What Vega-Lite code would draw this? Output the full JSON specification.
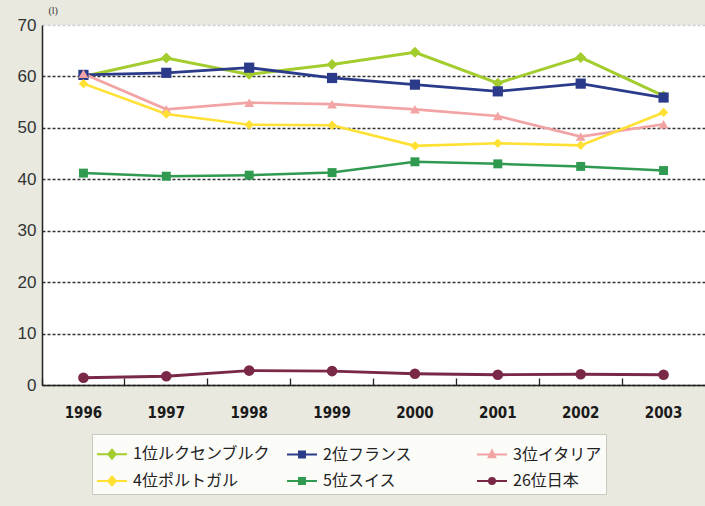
{
  "$schema": "https://vega.github.io/schema/vega-lite/v6.json",
  "width": 663,
  "height": 360,
  "autosize": {"type": "none"},
  "padding": {"left": 42, "top": 25, "right": 0, "bottom": 121},
  "background": "#e9e9e0",
  "config": {"view": {"fill": "#ffffff", "stroke": null}, "legend": {"gridAlign": "all"}},
  "data": {"values": [
    {"year": "1996", "country": "1位ルクセンブルク", "value": 60.0},
    {"year": "1997", "country": "1位ルクセンブルク", "value": 63.6},
    {"year": "1998", "country": "1位ルクセンブルク", "value": 60.4},
    {"year": "1999", "country": "1位ルクセンブルク", "value": 62.3},
    {"year": "2000", "country": "1位ルクセンブルク", "value": 64.7},
    {"year": "2001", "country": "1位ルクセンブルク", "value": 58.7},
    {"year": "2002", "country": "1位ルクセンブルク", "value": 63.7},
    {"year": "2003", "country": "1位ルクセンブルク", "value": 56.2},
    {"year": "1996", "country": "2位フランス", "value": 60.3},
    {"year": "1997", "country": "2位フランス", "value": 60.7},
    {"year": "1998", "country": "2位フランス", "value": 61.7},
    {"year": "1999", "country": "2位フランス", "value": 59.7},
    {"year": "2000", "country": "2位フランス", "value": 58.4},
    {"year": "2001", "country": "2位フランス", "value": 57.1},
    {"year": "2002", "country": "2位フランス", "value": 58.6},
    {"year": "2003", "country": "2位フランス", "value": 55.9},
    {"year": "1996", "country": "3位イタリア", "value": 60.5},
    {"year": "1997", "country": "3位イタリア", "value": 53.6},
    {"year": "1998", "country": "3位イタリア", "value": 54.9},
    {"year": "1999", "country": "3位イタリア", "value": 54.6},
    {"year": "2000", "country": "3位イタリア", "value": 53.6},
    {"year": "2001", "country": "3位イタリア", "value": 52.3},
    {"year": "2002", "country": "3位イタリア", "value": 48.3},
    {"year": "2003", "country": "3位イタリア", "value": 50.7},
    {"year": "1996", "country": "4位ポルトガル", "value": 58.6},
    {"year": "1997", "country": "4位ポルトガル", "value": 52.7},
    {"year": "1998", "country": "4位ポルトガル", "value": 50.6},
    {"year": "1999", "country": "4位ポルトガル", "value": 50.5},
    {"year": "2000", "country": "4位ポルトガル", "value": 46.5},
    {"year": "2001", "country": "4位ポルトガル", "value": 47.0},
    {"year": "2002", "country": "4位ポルトガル", "value": 46.6},
    {"year": "2003", "country": "4位ポルトガル", "value": 53.0},
    {"year": "1996", "country": "5位スイス", "value": 41.2},
    {"year": "1997", "country": "5位スイス", "value": 40.6},
    {"year": "1998", "country": "5位スイス", "value": 40.8},
    {"year": "1999", "country": "5位スイス", "value": 41.3},
    {"year": "2000", "country": "5位スイス", "value": 43.4},
    {"year": "2001", "country": "5位スイス", "value": 43.0},
    {"year": "2002", "country": "5位スイス", "value": 42.5},
    {"year": "2003", "country": "5位スイス", "value": 41.7},
    {"year": "1996", "country": "26位日本", "value": 1.4},
    {"year": "1997", "country": "26位日本", "value": 1.7},
    {"year": "1998", "country": "26位日本", "value": 2.8},
    {"year": "1999", "country": "26位日本", "value": 2.7},
    {"year": "2000", "country": "26位日本", "value": 2.2},
    {"year": "2001", "country": "26位日本", "value": 2.0},
    {"year": "2002", "country": "26位日本", "value": 2.1},
    {"year": "2003", "country": "26位日本", "value": 2.0}
  ]},
  "transform": [{"calculate": "datum.country", "as": "series"}],
  "encoding": {
    "x": {
      "field": "year", "type": "ordinal",
      "scale": {"type": "band", "paddingInner": 0, "paddingOuter": 0},
      "axis": {
        "title": null, "labelAngle": 0, "grid": false,
        "bandPosition": 0, "tickSize": -7, "tickColor": "#222", "tickWidth": 1.3,
        "domainColor": "#222", "domainWidth": 1.5,
        "labelFont": "DejaVu Sans Condensed", "labelFontWeight": "bold",
        "labelFontSize": 15, "labelColor": "#1a1a1a", "labelPadding": 27,
        "labelBaseline": "top"
      }
    },
    "y": {
      "field": "value", "type": "quantitative",
      "scale": {"domain": [0, 70], "nice": false},
      "axis": {
        "values": [0, 10, 20, 30, 40, 50, 60, 70],
        "grid": true, "gridDash": [3, 2], "gridWidth": 1.3,
        "gridColor": {"condition": {"test": "datum.value === 70", "value": "#cfcfcf"}, "value": "#333333"},
        "ticks": false, "domainColor": "#222", "domainWidth": 1.5,
        "labelFont": "Liberation Sans", "labelFontSize": 17, "labelColor": "#333",
        "labelPadding": 6,
        "title": "(l)", "titleAngle": 0, "titleX": 6, "titleY": -10,
        "titleAlign": "left", "titleBaseline": "bottom",
        "titleFont": "Liberation Serif", "titleFontSize": 10, "titleFontWeight": "normal", "titleColor": "#333"
      }
    },
    "color": {
      "field": "country", "type": "nominal",
      "scale": {
        "domain": ["1位ルクセンブルク", "2位フランス", "3位イタリア", "4位ポルトガル", "5位スイス", "26位日本"],
        "range": ["#a3cc2e", "#2b3b8a", "#f2a3a3", "#ffe033", "#2f9a50", "#7a2848"]
      },
      "legend": {
        "orient": "none", "legendX": 50, "legendY": 409,
        "direction": "horizontal",
        "columns": 3, "gridAlign": "all", "title": null,
        "labelFont": "Noto Sans CJK JP", "labelFontSize": 16, "labelColor": "#222",
        "labelLimit": 300, "labelOffset": 5,
        "symbolSize": 900, "symbolStrokeWidth": 2,
        "fillColor": "#fbfbf8", "strokeColor": "#c9c9c0",
        "padding": 4, "rowPadding": 2, "columnPadding": 13,
        "encode": {
          "symbols": {
            "update": {
              "shape": {"signal": "['M-1,0H1M0,-0.3L0.25,0L0,0.3L-0.25,0Z','M-1,0H1M-0.2,-0.2H0.2V0.2H-0.2Z','M-1,0H1M0,-0.26L0.22,0.18H-0.22Z','M-1,0H1M0,-0.3L0.25,0L0,0.3L-0.25,0Z','M-1,0H1M-0.2,-0.2H0.2V0.2H-0.2Z','M-1,0H1M-0.2,0A0.2,0.2 0 1,0 0.2,0A0.2,0.2 0 1,0 -0.2,0Z'][datum.index]"},
              "fill": {"signal": "scale('color', datum.value)"},
              "stroke": {"signal": "scale('color', datum.value)"},
              "strokeWidth": {"value": 2},
              "opacity": {"value": 1}
            }
          }
        }
      }
    }
  },
  "layer": [
    {
      "mark": {"type": "line"},
      "encoding": {
        "strokeWidth": {
          "field": "series", "type": "ordinal",
          "scale": {"range": [3, 2.5, 2.5, 1.5, 4, 2]},
          "legend": null
        }
      }
    },
    {
      "mark": {"type": "point", "filled": true, "opacity": 1},
      "encoding": {
        "shape": {
          "field": "series", "type": "nominal",
          "scale": {"range": ["diamond", "circle", "square", "triangle-up", "diamond", "square"]},
          "legend": null
        },
        "size": {
          "field": "series", "type": "ordinal",
          "scale": {"range": [120, 80, 120, 100, 120, 120]},
          "legend": null
        }
      }
    }
  ]
}
